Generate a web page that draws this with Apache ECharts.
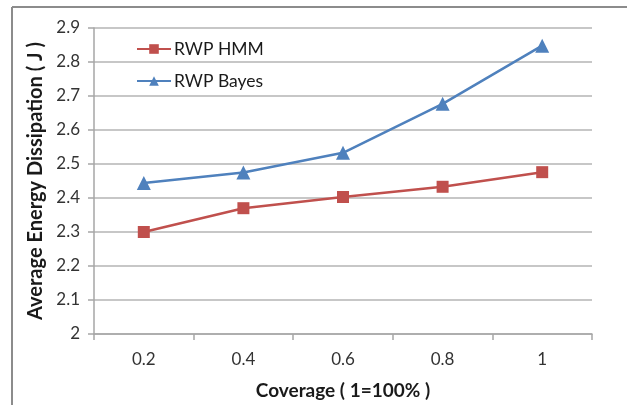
<!DOCTYPE html>
<html>
<head>
<meta charset="utf-8">
<script src="https://cdn.jsdelivr.net/npm/echarts@6/dist/echarts.min.js"></script>
<style>
  html, body { margin: 0; padding: 0; background: #fff; }
  #chart { width: 627px; height: 405px; }
</style>
</head>
<body>
<div id="chart"></div>
<script>
// Coverage levels on the x axis
const coverage = ['0.2', '0.4', '0.6', '0.8', '1'];
// Average energy dissipation (J) per protocol
const rwpHmm = [2.30, 2.37, 2.403, 2.433, 2.476];
const rwpBayes = [2.444, 2.475, 2.533, 2.677, 2.848];
const seriesNames = ['RWP HMM', 'RWP Bayes'];

const font = 'Lato, "Open Sans", sans-serif';
const chart = echarts.init(document.getElementById('chart'), null, { renderer: 'canvas' });

chart.setOption({
  backgroundColor: '#ffffff',
  animation: false,
  textStyle: { fontFamily: font },
  graphic: [
    { type: 'line', shape: { x1: 12, y1: 7, x2: 627, y2: 7 }, style: { stroke: '#8c8c8c', lineWidth: 2 } },
    { type: 'line', shape: { x1: 12, y1: 7, x2: 12, y2: 405 }, style: { stroke: '#8c8c8c', lineWidth: 2 } }
  ],
  grid: { left: 94, right: 35, top: 28, bottom: 69, containLabel: false },
  legend: {
    left: 131,
    top: 35,
    orient: 'vertical',
    itemGap: 14,
    itemWidth: 34,
    itemHeight: 12,
    textStyle: { fontSize: 17.5, color: '#1a1a1a', fontFamily: font, padding: [0, 0, 0, -2] },
    data: seriesNames
  },
  xAxis: {
    type: 'category',
    data: coverage,
    boundaryGap: true,
    name: 'Coverage ( 1=100% )',
    nameLocation: 'middle',
    nameGap: 47,
    nameTextStyle: { fontSize: 19, fontWeight: 'bold', color: '#1a1a1a', fontFamily: font },
    axisLine: { lineStyle: { color: '#a6a6a6', width: 1.5 } },
    axisTick: { show: true, alignWithLabel: false, length: 6, lineStyle: { color: '#a6a6a6', width: 1.5 } },
    axisLabel: { fontSize: 17, color: '#333333', margin: 17, fontFamily: font },
    splitLine: { show: false }
  },
  yAxis: {
    type: 'value',
    min: 2,
    max: 2.9,
    interval: 0.1,
    name: 'Average Energy Dissipation ( J )',
    nameLocation: 'middle',
    nameGap: 41,
    nameTextStyle: { fontSize: 20, fontWeight: 'bold', color: '#1a1a1a', fontFamily: font },
    axisLine: { show: true, lineStyle: { color: '#a6a6a6', width: 1.5 } },
    axisTick: { show: true, length: 6, lineStyle: { color: '#a6a6a6', width: 1.5 } },
    axisLabel: {
      fontSize: 17, color: '#333333', margin: 14, fontFamily: font,
      formatter: v => (Math.round(v * 10) / 10).toString()
    },
    splitLine: { show: true, lineStyle: { color: '#b5b5b5', width: 1.5 } }
  },
  series: [
    {
      name: seriesNames[0],
      type: 'line',
      data: rwpHmm,
      symbol: 'rect',
      symbolSize: 12,
      color: '#c0504d',
      lineStyle: { width: 2.5, color: '#c0504d' },
      itemStyle: { color: '#c0504d' }
    },
    {
      name: seriesNames[1],
      type: 'line',
      data: rwpBayes,
      symbol: 'triangle',
      symbolSize: 14,
      color: '#4f81bd',
      lineStyle: { width: 2.5, color: '#4f81bd' },
      itemStyle: { color: '#4f81bd' }
    }
  ]
});
</script>
</body>
</html>
